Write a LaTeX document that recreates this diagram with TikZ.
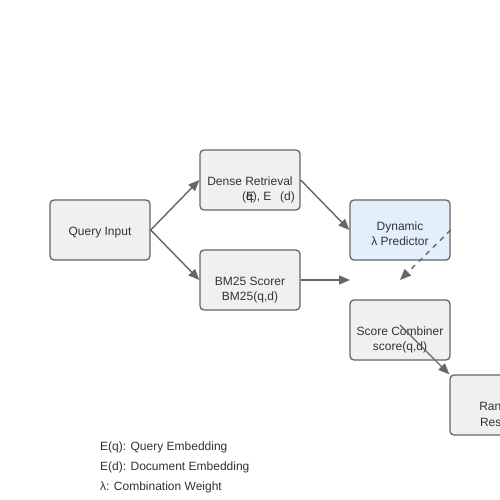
\documentclass[tikz,border=0pt]{standalone}
\usepackage{fontspec}
\setmainfont{Liberation Sans}
\usetikzlibrary{arrows.meta}
\definecolor{boxfill}{HTML}{F0F0F0}
\definecolor{boxline}{HTML}{666666}
\definecolor{bluefill}{HTML}{E3F0FC}
\definecolor{txt}{HTML}{333333}
\begin{document}
\begin{tikzpicture}[x=1pt,y=-1pt,
  box/.style={draw=boxline, line width=1.3pt, fill=boxfill, rounded corners=4pt, minimum width=100pt, minimum height=60pt, inner sep=0pt},
  lbl/.style={font=\fontsize{12}{15}\selectfont, text=txt, inner sep=0pt, anchor=base},
  conn/.style={draw=boxline, line width=1.4pt, -{Triangle[length=11pt,width=9pt]}},
  legend/.style={font=\fontsize{12}{15}\selectfont, text=txt, inner sep=0pt, anchor=base west}]
\useasboundingbox (0,0) rectangle (500,500);
\clip (0,0) rectangle (500,500);
\fill[white] (0,0) rectangle (500,500);
% boxes
\node[box] (q) at (100,230) {};
\node[box] (dr) at (250,180) {};
\node[box] (bm) at (250,280) {};
\node[box, fill=bluefill] (dy) at (400,230) {};
\node[box] (sc) at (400,330) {};
\node[box] (rr) at (500,405) {};
% labels
\node[lbl] (tq) at (100,235) {Query Input};
\node[lbl] (tdr1) at (250,185) {Dense Retrieval};
\node[lbl, anchor=base east] (tdr2) at (295,200) {(q), E\ \ \,(d)};
\node[lbl] (tdr2e) at (250,200) {E};
\node[lbl] (tbm1) at (250,285) {BM25 Scorer};
\node[lbl] (tbm2) at (250,300) {BM25(q,d)};
\node[lbl] (tdy1) at (400,230) {Dynamic};
\node[lbl] (tdy2) at (400,245) {λ Predictor};
\node[lbl] (tsc1) at (400,335) {Score Combiner};
\node[lbl] (tsc2) at (400,350) {score(q,d)};
\node[lbl] (trr1) at (500,410) {Ranked};
\node[lbl] (trr2) at (500,426) {Results};
% free ends
\coordinate (bmend) at (350,280);
\coordinate (dyend) at (400,280);
\coordinate (scstart) at (400,325);
% connectors
\draw[conn] (q.east) -- (dr.west);
\draw[conn] (q.east) -- (bm.west);
\draw[conn] (dr.east) -- (dy.west);
\draw[conn] (bm.east) -- (bmend);
\draw[conn, dash pattern=on 5pt off 5pt] (dy.east) -- (dyend);
\draw[conn] (scstart) -- (rr.north west);
% legend
\node[legend] (l1) at (100,450) {E(q): Query Embedding};
\node[legend] (l2) at (100,470) {E(d): Document Embedding};
\node[legend] (l3) at (100,490) {λ: Combination Weight};
\end{tikzpicture}
\end{document}
